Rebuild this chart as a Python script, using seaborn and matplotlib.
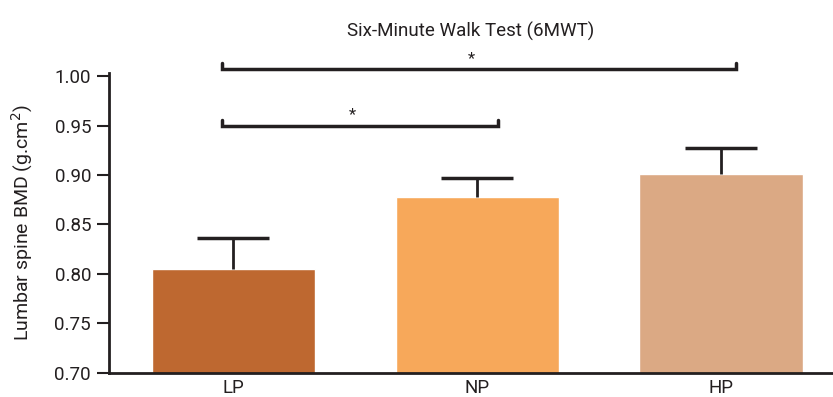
import numpy as np
import pandas as pd
import seaborn as sns
import matplotlib.pyplot as plt

# data
groups = ["LP", "NP", "HP"]
bmd_mean = [0.805, 0.878, 0.901]
bmd_err = [0.031, 0.019, 0.026]
colors = ["#BE6830", "#F7A85A", "#DBA984"]
y_ticks = [0.70, 0.75, 0.80, 0.85, 0.90, 0.95, 1.00]
# significance brackets: (group a, group b, height)
brackets = [("LP", "HP", 1.007), ("LP", "NP", 0.950)]

sns.set_style("ticks")
plt.rcParams["font.family"] = ["Liberation Sans Narrow", "Roboto", "DejaVu Sans"]
ink = "#231f20"

df = pd.DataFrame({"group": groups, "bmd": bmd_mean})

fig = plt.figure(figsize=(8.33, 3.97), dpi=100)
ax = fig.add_axes([0.131, 0.0605, 0.869, 0.7555])

sns.barplot(data=df, x="group", y="bmd", hue="group", palette=colors,
            width=0.67, saturation=1, legend=False, ax=ax)

xpos = np.arange(len(groups))
eb = ax.errorbar(xpos, bmd_mean, yerr=[np.zeros(len(groups)), bmd_err],
                 fmt="none", ecolor=ink, elinewidth=2, capsize=26,
                 capthick=2.5, zorder=3)
eb[1][0].set_visible(False)  # only the upper cap

for a, b, h in brackets:
    x1 = groups.index(a) - 0.045
    x2 = groups.index(b) + (0.06 if b == "HP" else 0.085)
    ax.plot([x1, x1, x2, x2], [h + 0.006, h, h, h + 0.006], color=ink,
            lw=2.5, clip_on=False, solid_joinstyle="miter")
    ax.text((x1 + x2) / 2 - 0.03, h + 0.003, "*", ha="center", va="bottom",
            fontsize=12, color=ink, clip_on=False)

ax.set_ylim(0.70, 1.003)
ax.set_xlim(-0.51, 2.46)
ax.set_yticks(y_ticks)
ax.set_yticklabels([f"{v:.2f}" for v in y_ticks], fontsize=13.5)
ax.tick_params(axis="y", length=9, width=1.5, color=ink, labelcolor=ink, pad=4)
ax.tick_params(axis="x", length=0, labelsize=13.5, labelcolor=ink, pad=4)
ax.set_xlabel("")
ax.set_ylabel("Lumbar spine BMD (g.cm$^2$)", fontsize=14, color=ink, labelpad=14)
ax.set_title("Six-Minute Walk Test (6MWT)", fontsize=13.5, color=ink, pad=26)

sns.despine(ax=ax)
for s in ["left", "bottom"]:
    ax.spines[s].set_linewidth(2)
    ax.spines[s].set_color(ink)

fig.savefig("out.png", dpi=100)
